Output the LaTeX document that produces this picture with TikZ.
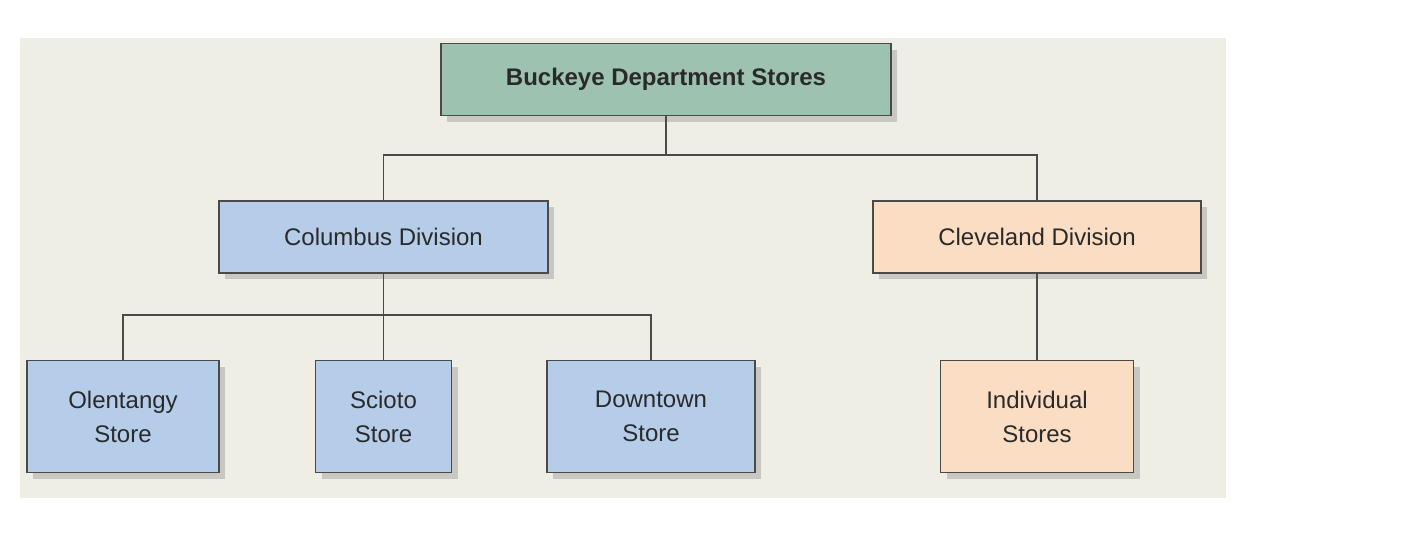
\documentclass[tikz,border=0pt]{standalone}
\usepackage{fontspec}
\setmainfont{Liberation Sans}
\usetikzlibrary{shadows}
\definecolor{bg}{HTML}{EFEEE4}
\definecolor{topc}{HTML}{9DC3B0}
\definecolor{bluec}{HTML}{B5CDE9}
\definecolor{peachc}{HTML}{FADDC3}
\definecolor{linec}{HTML}{4A4A4A}
\definecolor{txt}{HTML}{2A2A2A}
\begin{document}
\begin{tikzpicture}[x=0.5pt,y=-0.5pt,
  box/.style={draw=linec,line width=0.7pt,minimum height=36pt,align=center,text=txt,font=\fontsize{12}{17}\selectfont,
    drop shadow={shadow xshift=3pt,shadow yshift=-3pt,opacity=0.35,fill=gray}},
  tall/.style={box,minimum height=56pt},
  conn/.style={draw=linec,line width=0.7pt}]
\useasboundingbox (0,0) rectangle (1424,532);
\fill[bg] (20,38) rectangle (1226,498);
\node[box,fill=topc,minimum width=225pt,font=\bfseries\fontsize{12}{15}\selectfont] (top) at (666,79.5) {Buckeye Department Stores};
\node[box,fill=bluec,minimum width=164.5pt] (col) at (383.5,237) {Columbus Division};
\node[box,fill=peachc,minimum width=164pt] (cle) at (1037,237) {Cleveland Division};
\node[tall,fill=bluec,minimum width=96pt] (ole) at (123,416.5) {Olentangy\\Store};
\node[tall,fill=bluec,minimum width=68pt] (sci) at (383.5,416.5) {Scioto\\Store};
\node[tall,fill=bluec,minimum width=104pt] (dow) at (651,416.5) {Downtown\\Store};
\node[tall,fill=peachc,minimum width=96.5pt] (ind) at (1037,416.5) {Individual\\Stores};
\coordinate (j1) at (666,155);
\coordinate (j2) at (383.5,315);
\draw[conn] (top.south) -- (j1);
\draw[conn] (col.north) |- (j1) -| (cle.north);
\draw[conn] (col.south) -- (sci.north);
\draw[conn] (ole.north) |- (j2) -| (dow.north);
\draw[conn] (cle.south) -- (ind.north);
\end{tikzpicture}
\end{document}
